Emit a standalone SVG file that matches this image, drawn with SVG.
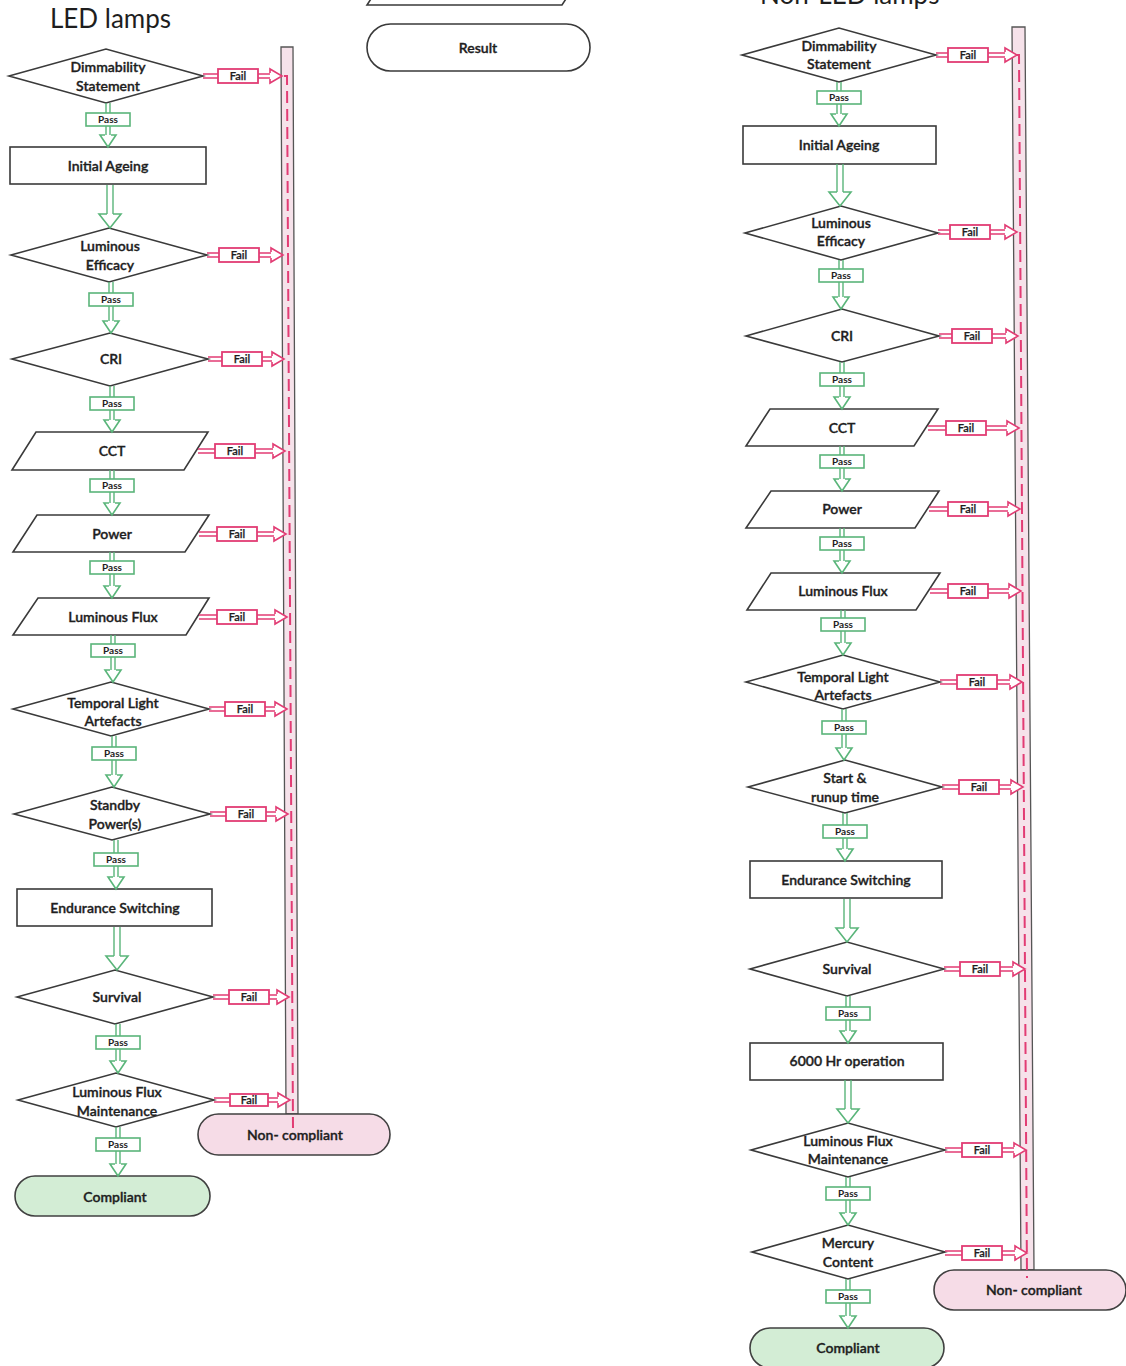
<svg xmlns="http://www.w3.org/2000/svg" width="1126" height="1366" viewBox="0 0 1126 1366">
<style>
text{font-family:Lato,"Liberation Sans",sans-serif;fill:#1e1e1e;text-anchor:middle}
.title{font-size:26px;text-anchor:start}
.lbl{font-size:14px;font-weight:600;stroke:#1e1e1e;stroke-width:0.35}
.sh{fill:#fff;stroke:#3a3a3a;stroke-width:1.6}
.comp{fill:#d3edd5;stroke:#404040;stroke-width:1.6}
.nonc{fill:#f6dce7;stroke:#404040;stroke-width:1.6}
.bar{fill:#f6e2ea;stroke:#555;stroke-width:1.3}
.dash{fill:none;stroke:#e23c74;stroke-width:2;stroke-dasharray:12 6}
.ps{fill:none;stroke:#5ab57a;stroke-width:1.4}
.pb{fill:#fff;stroke:#5ab57a;stroke-width:1.6}
.ph{fill:#fff;stroke:#5ab57a;stroke-width:1.6;stroke-linejoin:miter}
.pt{font-size:10px;font-weight:700}
.fs{fill:none;stroke:#e23c74;stroke-width:1.4}
.fb{fill:#fff;stroke:#e23c74;stroke-width:1.8}
.fh{fill:#fff;stroke:#e23c74;stroke-width:1.6}
.ft{font-size:11px;font-weight:600;stroke:#1e1e1e;stroke-width:0.25}
</style>

<!-- headings and legend -->
<text class="title" x="50" y="28">LED lamps</text>
<text class="title" x="760" y="4">Non-LED lamps</text>
<g id="legend-parallelogram"><polygon class="sh" points="391,-32 586,-32 562,5 367,5"/></g>
<g id="legend-result"><rect class="sh" x="367" y="24" width="223" height="47" rx="23.5"/><text class="lbl" x="478" y="53">Result</text></g>

<!-- LED column nodes -->
<g id="led-bar"><polygon class="bar" points="281,47 293,47 298,1114 286,1114"/></g>
<g id="led-dimmability"><polygon class="sh" points="9,76 106,49 203,76 106,103"/><text class="lbl" x="108" y="72">Dimmability</text><text class="lbl" x="108" y="91">Statement</text></g>
<g id="led-initial-ageing"><rect class="sh" x="10" y="147" width="196" height="37"/><text class="lbl" x="108" y="171">Initial Ageing</text></g>
<g id="led-efficacy"><polygon class="sh" points="11,255 109,228 207,255 109,282"/><text class="lbl" x="110" y="251">Luminous</text><text class="lbl" x="110" y="270">Efficacy</text></g>
<g id="led-cri"><polygon class="sh" points="12,359 110,333 208,359 110,386"/><text class="lbl" x="111" y="364">CRI</text></g>
<g id="led-cct"><polygon class="sh" points="36,432 208,432 184,470 12,470"/><text class="lbl" x="112" y="456">CCT</text></g>
<g id="led-power"><polygon class="sh" points="37,515 209,515 185,552 13,552"/><text class="lbl" x="112" y="539">Power</text></g>
<g id="led-flux"><polygon class="sh" points="38,598 209,598 186,635 13,635"/><text class="lbl" x="113" y="622">Luminous Flux</text></g>
<g id="led-tla"><polygon class="sh" points="13,709 111,682 209,709 111,736"/><text class="lbl" x="113" y="708">Temporal Light</text><text class="lbl" x="113" y="726">Artefacts</text></g>
<g id="led-standby"><polygon class="sh" points="14,814 112,787 210,814 112,840"/><text class="lbl" x="115" y="810">Standby</text><text class="lbl" x="115" y="829">Power(s)</text></g>
<g id="led-endurance"><rect class="sh" x="17" y="889" width="195" height="37"/><text class="lbl" x="115" y="913">Endurance Switching</text></g>
<g id="led-survival"><polygon class="sh" points="17,997 115,970 213,997 115,1024"/><text class="lbl" x="117" y="1002">Survival</text></g>
<g id="led-lfm"><polygon class="sh" points="18,1100 116,1073 214,1100 116,1127"/><text class="lbl" x="117" y="1097">Luminous Flux</text><text class="lbl" x="117" y="1116">Maintenance</text></g>
<g id="led-compliant"><rect class="comp" x="15" y="1176" width="195" height="40" rx="20"/><text class="lbl" x="115" y="1202">Compliant</text></g>
<g id="led-noncompliant"><rect class="nonc" x="198" y="1114" width="192" height="41" rx="20.5"/><text class="lbl" x="295" y="1140">Non- compliant</text></g>

<!-- Non-LED column nodes -->
<g id="nl-bar"><polygon class="bar" points="1012,27 1025,27 1034,1270 1021,1270"/></g>
<g id="nl-dimmability"><polygon class="sh" points="742,55 839,28 936,55 839,82"/><text class="lbl" x="839" y="51">Dimmability</text><text class="lbl" x="839" y="69">Statement</text></g>
<g id="nl-initial-ageing"><rect class="sh" x="743" y="126" width="193" height="38"/><text class="lbl" x="839" y="150">Initial Ageing</text></g>
<g id="nl-efficacy"><polygon class="sh" points="745,233 841,206 938,233 841,260"/><text class="lbl" x="841" y="228">Luminous</text><text class="lbl" x="841" y="246">Efficacy</text></g>
<g id="nl-cri"><polygon class="sh" points="746,336 842,309 939,336 842,362"/><text class="lbl" x="842" y="341">CRI</text></g>
<g id="nl-cct"><polygon class="sh" points="770,409 938,409 914,446 746,446"/><text class="lbl" x="842" y="433">CCT</text></g>
<g id="nl-power"><polygon class="sh" points="771,491 939,491 915,528 746,528"/><text class="lbl" x="842" y="514">Power</text></g>
<g id="nl-flux"><polygon class="sh" points="771,573 940,573 916,610 747,610"/><text class="lbl" x="843" y="596">Luminous Flux</text></g>
<g id="nl-tla"><polygon class="sh" points="746,682 843,655 940,682 843,709"/><text class="lbl" x="843" y="682">Temporal Light</text><text class="lbl" x="843" y="700">Artefacts</text></g>
<g id="nl-start"><polygon class="sh" points="748,787 845,760 942,787 845,813"/><text class="lbl" x="845" y="783">Start &amp;</text><text class="lbl" x="845" y="802">runup time</text></g>
<g id="nl-endurance"><rect class="sh" x="750" y="861" width="192" height="37"/><text class="lbl" x="846" y="885">Endurance Switching</text></g>
<g id="nl-survival"><polygon class="sh" points="750,969 847,942 944,969 847,996"/><text class="lbl" x="847" y="974">Survival</text></g>
<g id="nl-6000"><rect class="sh" x="750" y="1043" width="193" height="37"/><text class="lbl" x="847" y="1066">6000 Hr operation</text></g>
<g id="nl-lfm"><polygon class="sh" points="751,1150 848,1123 945,1150 848,1177"/><text class="lbl" x="848" y="1146">Luminous Flux</text><text class="lbl" x="848" y="1164">Maintenance</text></g>
<g id="nl-mercury"><polygon class="sh" points="752,1252 848,1225 945,1252 848,1279"/><text class="lbl" x="848" y="1248">Mercury</text><text class="lbl" x="848" y="1267">Content</text></g>
<g id="nl-compliant"><rect class="comp" x="750" y="1328" width="194" height="40" rx="20"/><text class="lbl" x="848" y="1353">Compliant</text></g>
<g id="nl-noncompliant"><rect class="nonc" x="934" y="1270" width="192" height="40" rx="20"/><text class="lbl" x="1034" y="1295">Non- compliant</text></g>

<!-- connectors -->
<g id="connectors">
<path class="dash" d="M284 76H287L293 1128"/>
<path class="dash" d="M1016 55H1019L1027 1278"/>

<!-- LED pass arrows -->
<g transform="translate(108,103)"><path class="ps" d="M-2 0V10M2 0V10M-2 23V32M2 23V32"/><rect class="pb" x="-22" y="10" width="44" height="13"/><path class="ph" d="M-3 32H-8L0 44L8 32H3"/><text class="pt" x="0" y="20">Pass</text></g>
<g transform="translate(110,185)"><path class="ps" d="M-3 0V29M3 0V29"/><path class="ph" d="M-3 29H-11L0 43L11 29H3"/></g>
<g transform="translate(111,282)"><path class="ps" d="M-2 0V11M2 0V11M-2 24V39M2 24V39"/><rect class="pb" x="-22" y="11" width="44" height="13"/><path class="ph" d="M-3 39H-8L0 51L8 39H3"/><text class="pt" x="0" y="21">Pass</text></g>
<g transform="translate(112,386)"><path class="ps" d="M-2 0V11M2 0V11M-2 24V34M2 24V34"/><rect class="pb" x="-22" y="11" width="44" height="13"/><path class="ph" d="M-3 34H-8L0 46L8 34H3"/><text class="pt" x="0" y="21">Pass</text></g>
<g transform="translate(112,470)"><path class="ps" d="M-2 0V9M2 0V9M-2 22V33M2 22V33"/><rect class="pb" x="-22" y="9" width="44" height="13"/><path class="ph" d="M-3 33H-8L0 45L8 33H3"/><text class="pt" x="0" y="19">Pass</text></g>
<g transform="translate(112,552)"><path class="ps" d="M-2 0V9M2 0V9M-2 22V34M2 22V34"/><rect class="pb" x="-22" y="9" width="44" height="13"/><path class="ph" d="M-3 34H-8L0 46L8 34H3"/><text class="pt" x="0" y="19">Pass</text></g>
<g transform="translate(113,635)"><path class="ps" d="M-2 0V9M2 0V9M-2 22V35M2 22V35"/><rect class="pb" x="-22" y="9" width="44" height="13"/><path class="ph" d="M-3 35H-8L0 47L8 35H3"/><text class="pt" x="0" y="19">Pass</text></g>
<g transform="translate(114,736)"><path class="ps" d="M-2 0V11M2 0V11M-2 24V39M2 24V39"/><rect class="pb" x="-22" y="11" width="44" height="13"/><path class="ph" d="M-3 39H-8L0 51L8 39H3"/><text class="pt" x="0" y="21">Pass</text></g>
<g transform="translate(116,840)"><path class="ps" d="M-2 0V13M2 0V13M-2 26V37M2 26V37"/><rect class="pb" x="-22" y="13" width="44" height="13"/><path class="ph" d="M-3 37H-8L0 49L8 37H3"/><text class="pt" x="0" y="23">Pass</text></g>
<g transform="translate(117,927)"><path class="ps" d="M-3 0V29M3 0V29"/><path class="ph" d="M-3 29H-11L0 43L11 29H3"/></g>
<g transform="translate(118,1024)"><path class="ps" d="M-2 0V12M2 0V12M-2 25V37M2 25V37"/><rect class="pb" x="-22" y="12" width="44" height="13"/><path class="ph" d="M-3 37H-8L0 49L8 37H3"/><text class="pt" x="0" y="22">Pass</text></g>
<g transform="translate(118,1127)"><path class="ps" d="M-2 0V11M2 0V11M-2 24V37M2 24V37"/><rect class="pb" x="-22" y="11" width="44" height="13"/><path class="ph" d="M-3 37H-8L0 49L8 37H3"/><text class="pt" x="0" y="21">Pass</text></g>

<!-- LED fail arrows -->
<g transform="translate(203,76)"><path class="fs" d="M0 -2H15M0 2H15M55 -2H67M55 2H67"/><rect class="fb" x="15" y="-7" width="40" height="14"/><path class="fh" d="M67 -3V-7L79 0L67 7V3"/><text class="ft" x="35" y="4">Fail</text></g>
<g transform="translate(207,255)"><path class="fs" d="M0 -2H12M0 2H12M52 -2H64M52 2H64"/><rect class="fb" x="12" y="-7" width="40" height="14"/><path class="fh" d="M64 -3V-7L76 0L64 7V3"/><text class="ft" x="32" y="4">Fail</text></g>
<g transform="translate(208,359)"><path class="fs" d="M0 -2H14M0 2H14M54 -2H64M54 2H64"/><rect class="fb" x="14" y="-7" width="40" height="14"/><path class="fh" d="M64 -3V-7L76 0L64 7V3"/><text class="ft" x="34" y="4">Fail</text></g>
<g transform="translate(198,451)"><path class="fs" d="M0 -2H17M0 2H17M57 -2H75M57 2H75"/><rect class="fb" x="17" y="-7" width="40" height="14"/><path class="fh" d="M75 -3V-7L87 0L75 7V3"/><text class="ft" x="37" y="4">Fail</text></g>
<g transform="translate(199,534)"><path class="fs" d="M0 -2H18M0 2H18M58 -2H75M58 2H75"/><rect class="fb" x="18" y="-7" width="40" height="14"/><path class="fh" d="M75 -3V-7L87 0L75 7V3"/><text class="ft" x="38" y="4">Fail</text></g>
<g transform="translate(199,617)"><path class="fs" d="M0 -2H18M0 2H18M58 -2H76M58 2H76"/><rect class="fb" x="18" y="-7" width="40" height="14"/><path class="fh" d="M76 -3V-7L88 0L76 7V3"/><text class="ft" x="38" y="4">Fail</text></g>
<g transform="translate(209,709)"><path class="fs" d="M0 -2H16M0 2H16M56 -2H66M56 2H66"/><rect class="fb" x="16" y="-7" width="40" height="14"/><path class="fh" d="M66 -3V-7L78 0L66 7V3"/><text class="ft" x="36" y="4">Fail</text></g>
<g transform="translate(210,814)"><path class="fs" d="M0 -2H16M0 2H16M56 -2H66M56 2H66"/><rect class="fb" x="16" y="-7" width="40" height="14"/><path class="fh" d="M66 -3V-7L78 0L66 7V3"/><text class="ft" x="36" y="4">Fail</text></g>
<g transform="translate(213,997)"><path class="fs" d="M0 -2H16M0 2H16M56 -2H64M56 2H64"/><rect class="fb" x="16" y="-7" width="40" height="14"/><path class="fh" d="M64 -3V-7L76 0L64 7V3"/><text class="ft" x="36" y="4">Fail</text></g>
<g transform="translate(214,1100)"><path class="fs" d="M0 -2H16M0 2H16M54 -2H64M54 2H64"/><rect class="fb" x="16" y="-6" width="38" height="12"/><path class="fh" d="M64 -3V-7L76 0L64 7V3"/><text class="ft" x="35" y="4">Fail</text></g>

<!-- Non-LED pass arrows -->
<g transform="translate(839,82)"><path class="ps" d="M-2 0V9M2 0V9M-2 22V32M2 22V32"/><rect class="pb" x="-22" y="9" width="44" height="13"/><path class="ph" d="M-3 32H-8L0 44L8 32H3"/><text class="pt" x="0" y="19">Pass</text></g>
<g transform="translate(840,164)"><path class="ps" d="M-3 0V28M3 0V28"/><path class="ph" d="M-3 28H-11L0 42L11 28H3"/></g>
<g transform="translate(841,260)"><path class="ps" d="M-2 0V9M2 0V9M-2 22V37M2 22V37"/><rect class="pb" x="-22" y="9" width="44" height="13"/><path class="ph" d="M-3 37H-8L0 49L8 37H3"/><text class="pt" x="0" y="19">Pass</text></g>
<g transform="translate(842,362)"><path class="ps" d="M-2 0V11M2 0V11M-2 24V35M2 24V35"/><rect class="pb" x="-22" y="11" width="44" height="13"/><path class="ph" d="M-3 35H-8L0 47L8 35H3"/><text class="pt" x="0" y="21">Pass</text></g>
<g transform="translate(842,446)"><path class="ps" d="M-2 0V9M2 0V9M-2 22V33M2 22V33"/><rect class="pb" x="-22" y="9" width="44" height="13"/><path class="ph" d="M-3 33H-8L0 45L8 33H3"/><text class="pt" x="0" y="19">Pass</text></g>
<g transform="translate(842,528)"><path class="ps" d="M-2 0V9M2 0V9M-2 22V33M2 22V33"/><rect class="pb" x="-22" y="9" width="44" height="13"/><path class="ph" d="M-3 33H-8L0 45L8 33H3"/><text class="pt" x="0" y="19">Pass</text></g>
<g transform="translate(843,610)"><path class="ps" d="M-2 0V8M2 0V8M-2 21V33M2 21V33"/><rect class="pb" x="-22" y="8" width="44" height="13"/><path class="ph" d="M-3 33H-8L0 45L8 33H3"/><text class="pt" x="0" y="18">Pass</text></g>
<g transform="translate(844,709)"><path class="ps" d="M-2 0V12M2 0V12M-2 25V39M2 25V39"/><rect class="pb" x="-22" y="12" width="44" height="13"/><path class="ph" d="M-3 39H-8L0 51L8 39H3"/><text class="pt" x="0" y="22">Pass</text></g>
<g transform="translate(845,813)"><path class="ps" d="M-2 0V12M2 0V12M-2 25V36M2 25V36"/><rect class="pb" x="-22" y="12" width="44" height="13"/><path class="ph" d="M-3 36H-8L0 48L8 36H3"/><text class="pt" x="0" y="22">Pass</text></g>
<g transform="translate(847,899)"><path class="ps" d="M-3 0V29M3 0V29"/><path class="ph" d="M-3 29H-11L0 43L11 29H3"/></g>
<g transform="translate(848,996)"><path class="ps" d="M-2 0V11M2 0V11M-2 24V35M2 24V35"/><rect class="pb" x="-22" y="11" width="44" height="13"/><path class="ph" d="M-3 35H-8L0 47L8 35H3"/><text class="pt" x="0" y="21">Pass</text></g>
<g transform="translate(848,1080)"><path class="ps" d="M-3 0V29M3 0V29"/><path class="ph" d="M-3 29H-11L0 43L11 29H3"/></g>
<g transform="translate(848,1177)"><path class="ps" d="M-2 0V10M2 0V10M-2 23V36M2 23V36"/><rect class="pb" x="-22" y="10" width="44" height="13"/><path class="ph" d="M-3 36H-8L0 48L8 36H3"/><text class="pt" x="0" y="20">Pass</text></g>
<g transform="translate(848,1279)"><path class="ps" d="M-2 0V11M2 0V11M-2 24V37M2 24V37"/><rect class="pb" x="-22" y="11" width="44" height="13"/><path class="ph" d="M-3 37H-8L0 49L8 37H3"/><text class="pt" x="0" y="21">Pass</text></g>

<!-- Non-LED fail arrows -->
<g transform="translate(936,55)"><path class="fs" d="M0 -2H12M0 2H12M52 -2H69M52 2H69"/><rect class="fb" x="12" y="-7" width="40" height="14"/><path class="fh" d="M69 -3V-7L81 0L69 7V3"/><text class="ft" x="32" y="4">Fail</text></g>
<g transform="translate(938,232)"><path class="fs" d="M0 -2H12M0 2H12M52 -2H67M52 2H67"/><rect class="fb" x="12" y="-7" width="40" height="14"/><path class="fh" d="M67 -3V-7L79 0L67 7V3"/><text class="ft" x="32" y="4">Fail</text></g>
<g transform="translate(939,336)"><path class="fs" d="M0 -2H13M0 2H13M53 -2H67M53 2H67"/><rect class="fb" x="13" y="-7" width="40" height="14"/><path class="fh" d="M67 -3V-7L79 0L67 7V3"/><text class="ft" x="33" y="4">Fail</text></g>
<g transform="translate(928,428)"><path class="fs" d="M0 -2H18M0 2H18M58 -2H79M58 2H79"/><rect class="fb" x="18" y="-7" width="40" height="14"/><path class="fh" d="M79 -3V-7L91 0L79 7V3"/><text class="ft" x="38" y="4">Fail</text></g>
<g transform="translate(929,509)"><path class="fs" d="M0 -2H19M0 2H19M59 -2H79M59 2H79"/><rect class="fb" x="19" y="-7" width="40" height="14"/><path class="fh" d="M79 -3V-7L91 0L79 7V3"/><text class="ft" x="39" y="4">Fail</text></g>
<g transform="translate(930,591)"><path class="fs" d="M0 -2H18M0 2H18M58 -2H79M58 2H79"/><rect class="fb" x="18" y="-7" width="40" height="14"/><path class="fh" d="M79 -3V-7L91 0L79 7V3"/><text class="ft" x="38" y="4">Fail</text></g>
<g transform="translate(940,682)"><path class="fs" d="M0 -2H17M0 2H17M57 -2H70M57 2H70"/><rect class="fb" x="17" y="-7" width="40" height="14"/><path class="fh" d="M70 -3V-7L82 0L70 7V3"/><text class="ft" x="37" y="4">Fail</text></g>
<g transform="translate(942,787)"><path class="fs" d="M0 -2H17M0 2H17M57 -2H69M57 2H69"/><rect class="fb" x="17" y="-7" width="40" height="14"/><path class="fh" d="M69 -3V-7L81 0L69 7V3"/><text class="ft" x="37" y="4">Fail</text></g>
<g transform="translate(944,969)"><path class="fs" d="M0 -2H16M0 2H16M56 -2H69M56 2H69"/><rect class="fb" x="16" y="-7" width="40" height="14"/><path class="fh" d="M69 -3V-7L81 0L69 7V3"/><text class="ft" x="36" y="4">Fail</text></g>
<g transform="translate(945,1150)"><path class="fs" d="M0 -2H17M0 2H17M57 -2H69M57 2H69"/><rect class="fb" x="17" y="-7" width="40" height="14"/><path class="fh" d="M69 -3V-7L81 0L69 7V3"/><text class="ft" x="37" y="4">Fail</text></g>
<g transform="translate(945,1253)"><path class="fs" d="M0 -2H17M0 2H17M57 -2H70M57 2H70"/><rect class="fb" x="17" y="-7" width="40" height="14"/><path class="fh" d="M70 -3V-7L82 0L70 7V3"/><text class="ft" x="37" y="4">Fail</text></g>
</g>
</svg>
